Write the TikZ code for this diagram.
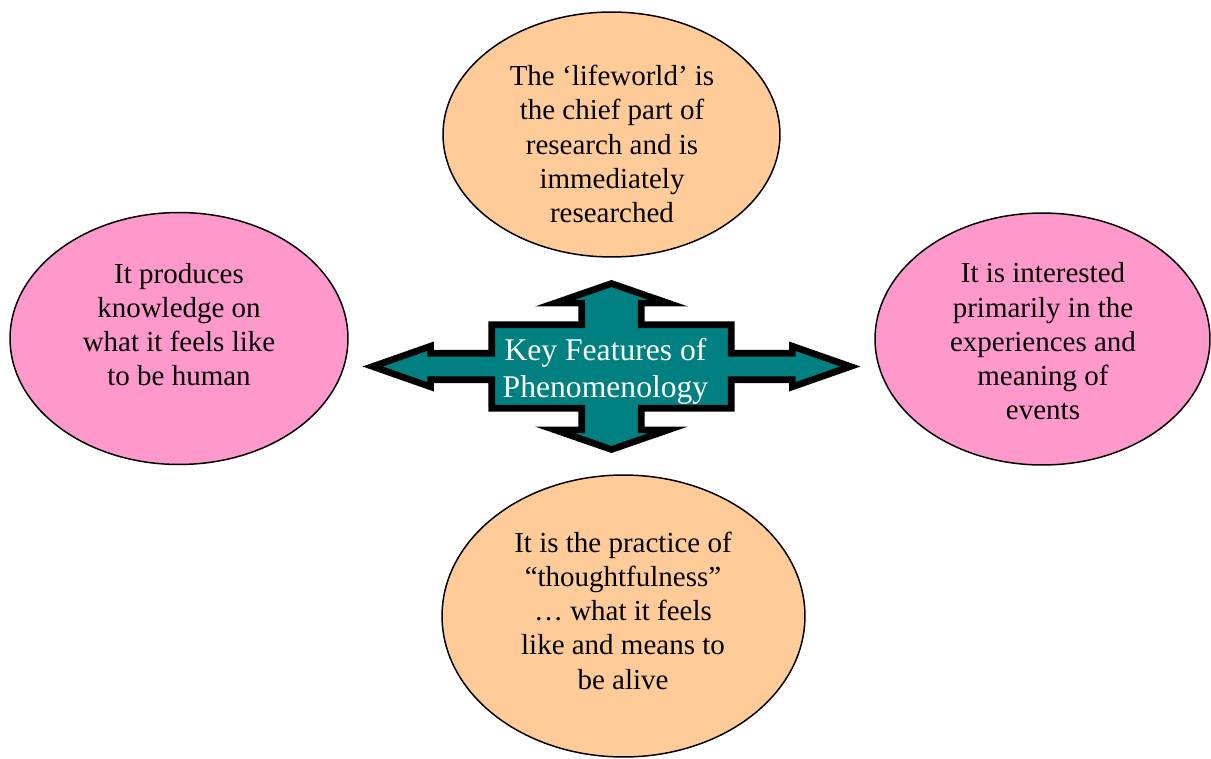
\documentclass[tikz,border=0pt]{standalone}
\usepackage{fontspec}
\setmainfont{Liberation Serif}
\usepackage{xcolor}
\usetikzlibrary{shapes.geometric}
\definecolor{peach}{HTML}{FFCC99}
\definecolor{rosepink}{HTML}{FF99CC}
\definecolor{featureteal}{HTML}{008080}

\tikzset{
	bubble/.style={draw=black, line width=0.85pt, shape=ellipse, inner sep=0pt},
	bubbletext/.style={align=center, inner sep=0pt, font=\fontsize{16.5}{19.5}\selectfont},
	keytext/.style={align=center, inner sep=0pt, text=white, font=\fontsize{18}{21}\selectfont},
	crossarrow/.style={draw=black, fill=featureteal, line width=3.8pt, line join=miter}
}

\begin{document}
\begin{tikzpicture}[x=0.02cm, y=-0.02cm]
	\useasboundingbox (0,0) rectangle (1211,758);
	% the four feature ellipses
	\node [bubble, fill=peach, minimum width=6.74cm, minimum height=4.9cm] (lifeworld) at (611.5, 134.5) {};
	\node [bubble, fill=rosepink, minimum width=6.76cm, minimum height=5.04cm] (human) at (179, 338.5) {};
	\node [bubble, fill=rosepink, minimum width=6.7cm, minimum height=5.04cm] (events) at (1042.5, 339) {};
	\node [bubble, fill=peach, minimum width=7.26cm, minimum height=5.64cm] (alive) at (623.5, 616) {};
	% four-way arrow in the middle
	\draw [crossarrow, shift={(611.5,366.5)}] (0,-83) -- (56.6,-63.4) -- (29.7,-63.4) -- (29.7,-41.7)
		-- (119.7,-41.7) -- (119.7,-13.2) -- (180.9,-13.2) -- (180.9,-20.3) -- (238.9,0)
		-- (180.9,20.3) -- (180.9,13.2) -- (119.7,13.2) -- (119.7,41.7) -- (29.7,41.7)
		-- (29.7,63.4) -- (56.6,63.4) -- (0,83) -- (-56.6,63.4) -- (-29.7,63.4) -- (-29.7,41.7)
		-- (-119.7,41.7) -- (-119.7,13.2) -- (-180.9,13.2) -- (-180.9,20.3) -- (-238.9,0)
		-- (-180.9,-20.3) -- (-180.9,-13.2) -- (-119.7,-13.2) -- (-119.7,-41.7) -- (-29.7,-41.7)
		-- (-29.7,-63.4) -- (-56.6,-63.4) -- cycle;
	\node [keytext] (key) at (605.5, 371) {Key Features of\\Phenomenology};
	% texts
	\node [bubbletext] (lifeworldtext) at (612, 144) {The ‘lifeworld’ is\\the chief part of\\research and is\\immediately\\researched};
	\node [bubbletext] (humantext) at (179, 324.5) {It produces\\knowledge on\\what it feels like\\to be human};
	\node [bubbletext] (eventstext) at (1043, 341.5) {It is interested\\primarily in the\\experiences and\\meaning of\\events};
	\node [bubbletext] (alivetext) at (623, 610.5) {It is the practice of\\“thoughtfulness”\\… what it feels\\like and means to\\be alive};
\end{tikzpicture}
\end{document}
